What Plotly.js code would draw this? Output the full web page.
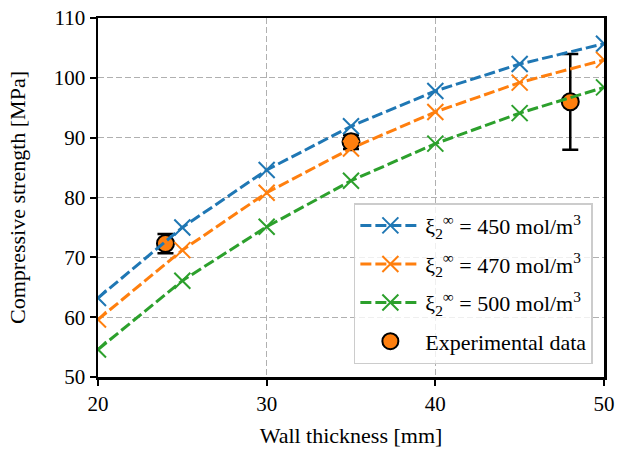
<!DOCTYPE html>
<html>
<head>
<meta charset="utf-8">
<script src="https://cdn.plot.ly/plotly-3.0.1.min.js"></script>
<style>html,body{margin:0;padding:0;background:#fff;}#chart{width:617px;height:451px;}</style>
</head>
<body>
<div id="chart"></div>
<script>
const thickness = [20, 25, 30, 35, 40, 45, 50];
const strength450 = [63.2, 75.0, 84.6, 91.9, 97.8, 102.3, 105.7];
const strength470 = [59.6, 71.2, 80.8, 88.2, 94.3, 99.2, 103.0];
const strength500 = [54.6, 66.1, 75.1, 82.8, 89.0, 94.1, 98.4];
const expThickness = [24, 35, 48];
const expStrength = [72.3, 89.3, 96.0];
const expError = [1.6, 1.2, 8.0];
const seriesNames = [
  'ξ<sub>2</sub><sup>∞</sup> = 450 mol/m<sup>3</sup>',
  'ξ<sub>2</sub><sup>∞</sup> = 470 mol/m<sup>3</sup>',
  'ξ<sub>2</sub><sup>∞</sup> = 500 mol/m<sup>3</sup>'
];
const colors = ['#1f77b4', '#ff7f0e', '#2ca02c'];
const series = [strength450, strength470, strength500];

const font = 'Liberation Serif, DejaVu Serif, serif';

const traces = [{
  x: expThickness, y: expStrength, type: 'scatter', mode: 'markers',
  name: 'Experimental data', legendrank: 2000, legendgroup: 'exp',
  marker: {color: '#ff7f0e', size: 17, line: {color: '#000', width: 2}},
  error_y: {type: 'data', array: expError, visible: true, color: '#000', thickness: 2.5, width: 8},
  cliponaxis: false
}];
series.forEach((s, i) => {
  traces.push({
    x: thickness, y: s, type: 'scatter', mode: 'lines+markers',
    name: seriesNames[i], legendrank: 1000 + i, legendgroup: 'g' + i,
    line: {color: colors[i], width: 3, dash: '11px,4px'},
    marker: {symbol: 'x-thin-open', size: 16, color: colors[i], line: {color: colors[i], width: 2}},
    cliponaxis: true
  });
});

const axisCommon = {
  showline: true, linecolor: '#000', linewidth: 2.5, mirror: true,
  ticks: 'outside', ticklen: 6, tickwidth: 2, tickcolor: '#000',
  showgrid: true, gridcolor: '#b0b0b0', gridwidth: 1.3, griddash: '6px,3px',
  zeroline: false, tickfont: {family: font, size: 21, color: '#000'}
};

const layout = {
  width: 617, height: 451,
  margin: {l: 98, r: 13, t: 18, b: 74},
  paper_bgcolor: '#fff', plot_bgcolor: '#fff',
  font: {family: font, size: 21, color: '#000'},
  showlegend: true,
  legend: {
    x: 0.978, xanchor: 'right', y: 0.036, yanchor: 'bottom',
    bgcolor: 'rgba(255,255,255,0.8)', bordercolor: '#cccccc', borderwidth: 1.5,
    font: {family: font, size: 22, color: '#000'},
    itemwidth: 60, tracegroupgap: 7, traceorder: 'grouped'
  },
  xaxis: Object.assign({}, axisCommon, {
    range: [20, 50], tickvals: [20, 30, 40, 50],
    title: {text: 'Wall thickness [mm]', font: {family: font, size: 22}, standoff: 13}
  }),
  yaxis: Object.assign({}, axisCommon, {
    range: [50, 110], tickvals: [50, 60, 70, 80, 90, 100, 110],
    title: {text: 'Compressive strength [MPa]', font: {family: font, size: 22}, standoff: 22}
  })
};

Plotly.newPlot('chart', traces, layout, {displayModeBar: false, staticPlot: true});
</script>
</body>
</html>
